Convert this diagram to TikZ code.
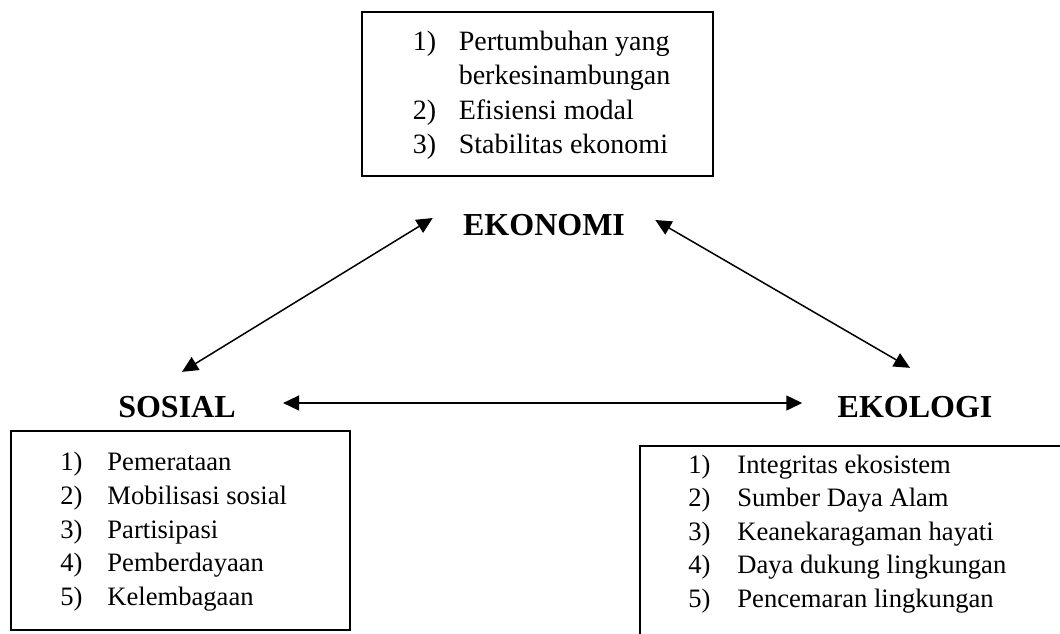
\documentclass[tikz,border=0pt]{standalone}
\usepackage{fontspec}
\setmainfont{Liberation Serif}
\usetikzlibrary{matrix,positioning,arrows.meta,calc}

\begin{document}
\begin{tikzpicture}[x=0.5pt,y=-0.5pt, box/.style={draw, line width=0.9pt, inner sep=0pt}, pillar/.style={font=\fontsize{16}{19}\selectfont\bfseries, inner sep=0pt}, both/.style={{Triangle[length=8pt,width=7.5pt]}-{Triangle[length=8pt,width=7.5pt]}, line width=0.75pt}]
  \useasboundingbox (0,0) rectangle (1060,633);
  \clip (0,0) rectangle (1060,633);

  \node (K)[pillar] at (544,225) {EKONOMI};
  \node (S)[pillar] at (177,407) {SOSIAL};
  \node (L)[pillar] at (915,407) {EKOLOGI};

  \node (Kbox)[box, minimum width=175.5pt, minimum height=82pt] at (537.5,94) {};
  \matrix (A)[matrix of nodes, anchor=north west, inner sep=0pt, nodes={anchor=base west, inner sep=0pt, text height=12pt, text depth=5.2pt, font=\fontsize{14}{16}\selectfont}, column 1/.style={nodes={text width=23pt}}] at (412,26)
    {1) & Pertumbuhan yang \\
        & berkesinambungan \\
     2) & Efisiensi modal \\
     3) & Stabilitas ekonomi \\};

  \node (Sbox)[box, minimum width=169.5pt, minimum height=99.5pt] at (180.5,530.5) {};
  \matrix (B)[matrix of nodes, anchor=north west, inner sep=0pt, nodes={anchor=base west, inner sep=0pt, text height=12pt, text depth=4.9pt, font=\fontsize{13.3}{15}\selectfont}, column 1/.style={nodes={text width=23.5pt}}] at (60,446)
    {1) & Pemerataan \\
     2) & Mobilisasi sosial \\
     3) & Partisipasi \\
     4) & Pemberdayaan \\
     5) & Kelembagaan \\};

  \node (Lbox)[box, minimum width=240pt, minimum height=120pt] at (880,566) {};
  \matrix (C)[matrix of nodes, anchor=north west, inner sep=0pt, nodes={anchor=base west, inner sep=0pt, text height=12pt, text depth=4.75pt, font=\fontsize{13.3}{15}\selectfont}, column 1/.style={nodes={text width=24.5pt}}] at (688,449)
    {1) & Integritas ekosistem \\
     2) & Sumber Daya Alam \\
     3) & Keanekaragaman hayati \\
     4) & Daya dukung lingkungan \\
     5) & Pencemaran lingkungan \\};

  \draw[both] ($(K.west)+(-30,-7)$) -- ($(S.north)+(5,-24)$);
  \draw[both] ($(K.east)+(30,-5)$) -- ($(L.north)+(-5,-28)$);
  \draw[both] ($(S.east)+(47,-4)$) -- ($(L.west)+(-35,-4)$);
\end{tikzpicture}
\end{document}
